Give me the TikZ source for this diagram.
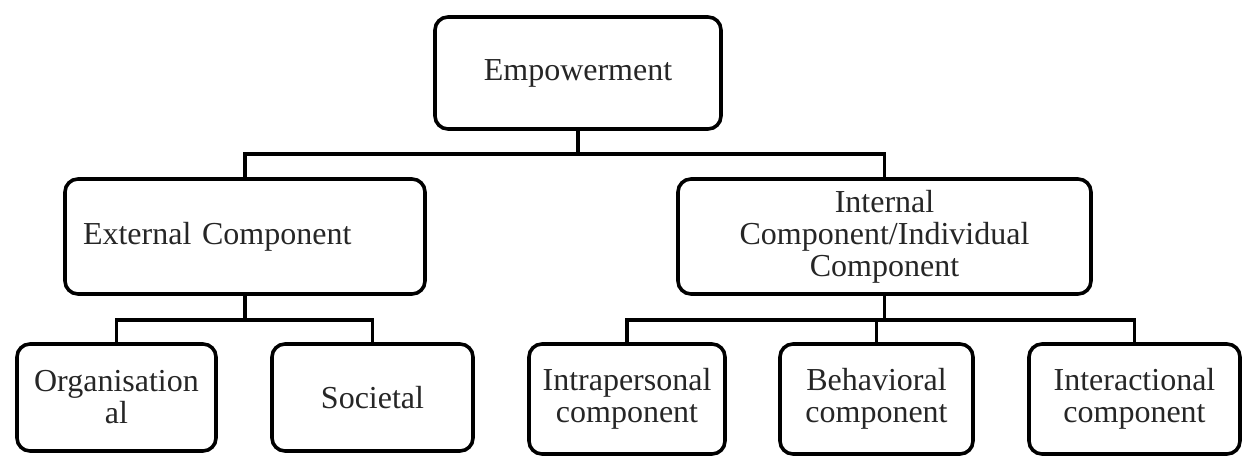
\documentclass[tikz,border=0pt]{standalone}
\usepackage{fontspec}
\setmainfont{Liberation Serif}
\begin{document}
\begin{tikzpicture}[x=1pt,y=-1pt,
  box/.style={draw=black, line width=3.6pt, rounded corners=13pt, fill=white,
    inner sep=0pt, align=center, text=black!85,
    font=\fontsize{32}{32}\selectfont},
  link/.style={draw=black, line width=3.6pt}]
\useasboundingbox[fill=white] (0,0) rectangle (1248,457);
\node[box, minimum width=286pt, minimum height=112pt] (emp) at (578,73) {Empowerment};
\node[box, minimum width=360pt, minimum height=115pt, text width=324pt, inner xsep=18pt, align=left] (ext) at (245,236.5) {External Component};
\node[box, minimum width=413pt, minimum height=115pt] (int) at (884.5,236.5) {Internal\\Component/Individual\\Component};
\node[box, minimum width=199pt, minimum height=107pt] (org) at (116.5,397.5) {Organisation\\al};
\node[box, minimum width=201pt, minimum height=107pt] (soc) at (372.5,397.5) {Societal};
\node[box, minimum width=196pt, minimum height=110pt] (intra) at (627,399) {Intrapersonal\\component};
\node[box, minimum width=193pt, minimum height=110pt] (beh) at (876.5,399) {Behavioral\\component};
\node[box, minimum width=211pt, minimum height=110pt] (inter) at (1134.5,399) {Interactional\\component};
\coordinate (bus1) at (0,154);
\coordinate (bus2) at (0,320);
\coordinate (bus3) at (0,320);
\draw[link] (emp.south) -- (emp.south |- bus1);
\draw[link] (ext.north) |- (bus1 -| int.north) -- (int.north);
\draw[link] (ext.south) -- (ext.south |- bus2);
\draw[link] (org.north) |- (bus2 -| soc.north) -- (soc.north);
\draw[link] (int.south) -- (int.south |- bus3);
\draw[link] (intra.north) |- (bus3 -| inter.north) -- (inter.north);
\draw[link] (beh.north) -- (beh.north |- bus3);
\end{tikzpicture}
\end{document}
